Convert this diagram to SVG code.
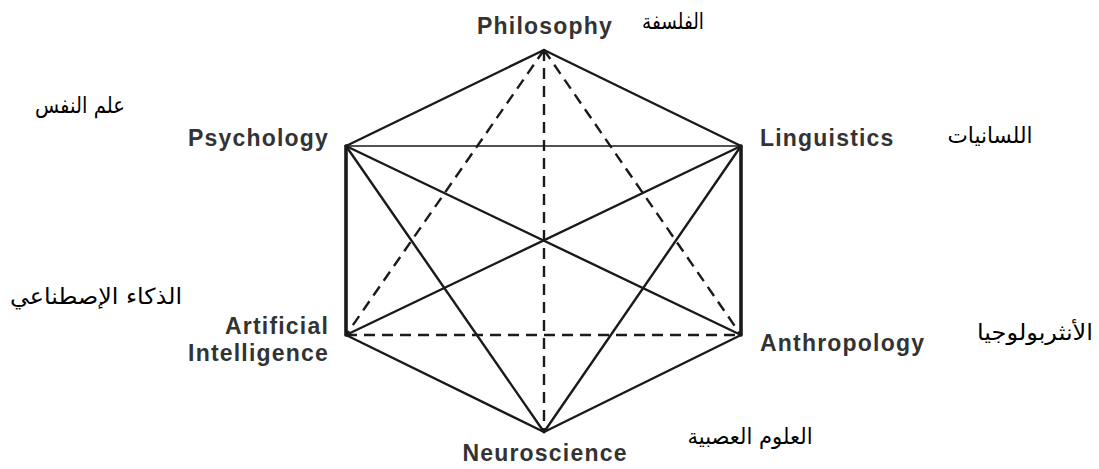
<svg xmlns="http://www.w3.org/2000/svg" width="1099" height="469" viewBox="0 0 1099 469">
  <style>
    .bg { fill: #ffffff; }
    .edge { stroke: #1a1a1a; stroke-width: 2.4; fill: none; stroke-linecap: round; }
    .thick { stroke-width: 3.6; }
    .thin { stroke-width: 1.7; }
    .dash { stroke-dasharray: 11 7; stroke-linecap: butt; }
    .en { font-family: "Liberation Sans", Arial, Helvetica, sans-serif; font-size: 23px; font-weight: bold; fill: #333333; letter-spacing: 1.2px; }
    .ar { font-family: "DejaVu Sans", "Liberation Sans", sans-serif; font-size: 22px; fill: #000000; }
  </style>
  <rect class="bg" x="0" y="0" width="1099" height="469"/>
  <g id="connectors">
    <line class="edge" x1="544" y1="50" x2="346" y2="146"/>
    <line class="edge" x1="544" y1="50" x2="741" y2="146"/>
    <line class="edge thick" x1="346" y1="146" x2="346" y2="335"/>
    <line class="edge thick" x1="741" y1="146" x2="741" y2="335"/>
    <line class="edge" x1="346" y1="335" x2="544" y2="432"/>
    <line class="edge" x1="741" y1="335" x2="544" y2="432"/>
    <line class="edge thin" x1="346" y1="146" x2="741" y2="146"/>
    <line class="edge" x1="346" y1="146" x2="741" y2="335"/>
    <line class="edge" x1="741" y1="146" x2="346" y2="335"/>
    <line class="edge" x1="346" y1="146" x2="544" y2="432"/>
    <line class="edge" x1="741" y1="146" x2="544" y2="432"/>
    <line class="edge dash" x1="544" y1="50" x2="544" y2="432"/>
    <line class="edge dash" x1="544" y1="50" x2="346" y2="335"/>
    <line class="edge dash" x1="544" y1="50" x2="741" y2="335"/>
    <line class="edge dash" x1="346" y1="335" x2="741" y2="335"/>
  </g>
  <g id="node-philosophy">
    <text class="en" x="545" y="34" text-anchor="middle">Philosophy</text>
    <text class="ar" x="673" y="29" text-anchor="middle" textLength="62" lengthAdjust="spacingAndGlyphs">الفلسفة</text>
  </g>
  <g id="node-psychology">
    <text class="en" x="329" y="146" text-anchor="end">Psychology</text>
    <text class="ar" x="80" y="113" text-anchor="middle" textLength="90" lengthAdjust="spacingAndGlyphs">علم النفس</text>
  </g>
  <g id="node-linguistics">
    <text class="en" x="760" y="146">Linguistics</text>
    <text class="ar" x="990" y="143" text-anchor="middle" textLength="85" lengthAdjust="spacingAndGlyphs">اللسانيات</text>
  </g>
  <g id="node-ai">
    <text class="en" x="329" y="334" text-anchor="end">Artificial</text>
    <text class="en" x="329" y="361" text-anchor="end">Intelligence</text>
    <text class="ar" x="96" y="304" text-anchor="middle" textLength="172" lengthAdjust="spacingAndGlyphs">الذكاء الإصطناعي</text>
  </g>
  <g id="node-anthropology">
    <text class="en" x="760" y="351">Anthropology</text>
    <text class="ar" x="1035" y="340" text-anchor="middle" textLength="116" lengthAdjust="spacingAndGlyphs">الأنثربولوجيا</text>
  </g>
  <g id="node-neuroscience">
    <text class="en" x="545" y="461" text-anchor="middle">Neuroscience</text>
    <text class="ar" x="750" y="444" text-anchor="middle" textLength="125" lengthAdjust="spacingAndGlyphs">العلوم العصبية</text>
  </g>
</svg>
